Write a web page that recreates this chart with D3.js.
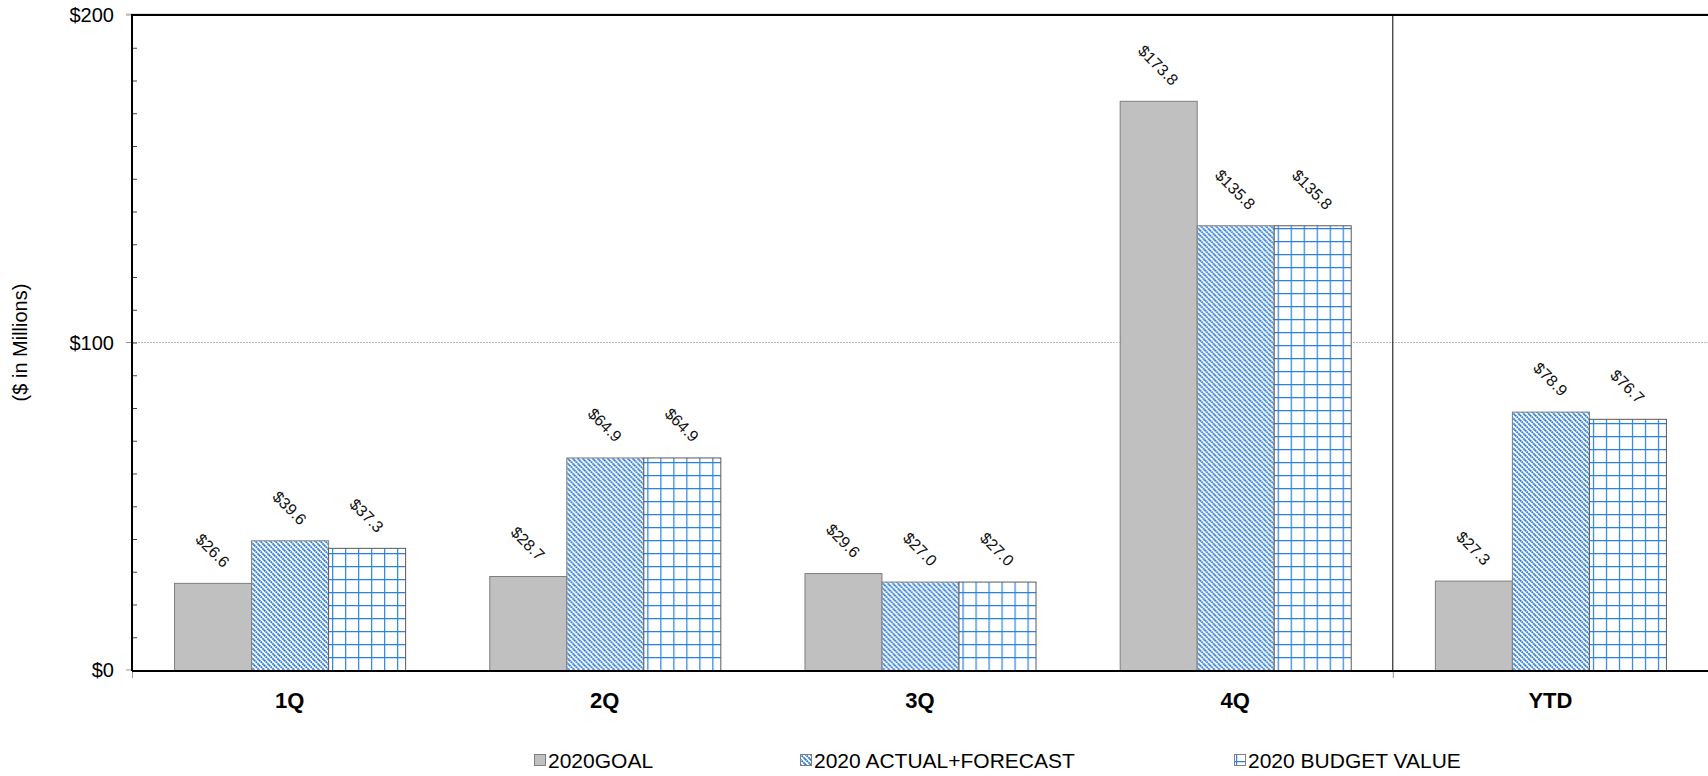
<!DOCTYPE html>
<html>
<head>
<meta charset="utf-8">
<script src="https://cdn.jsdelivr.net/npm/d3@7"></script>
<style>
  html, body { margin: 0; padding: 0; background: #fff; }
  svg { display: block; font-family: Arial, "Liberation Sans", sans-serif; }
  .bar-label { font-size: 16px; fill: #111; }
  .ytick { font-size: 20px; fill: #000; }
  .xtick { font-size: 22px; font-weight: bold; fill: #000; }
  .legend text { font-size: 21px; fill: #000; }
</style>
</head>
<body>
<svg id="chart" width="1708" height="776"></svg>
<script>
var categories = ['1Q', '2Q', '3Q', '4Q', 'YTD'];
var seriesNames = ['2020GOAL', '2020 ACTUAL+FORECAST', '2020 BUDGET VALUE'];
var goal = [26.6, 28.7, 29.6, 173.8, 27.3];
var actualForecast = [39.6, 64.9, 27.0, 135.8, 78.9];
var budget = [37.3, 64.9, 27.0, 135.8, 76.7];
var yTicks = [0, 100, 200];

var seriesValues = [goal, actualForecast, budget];
var fills = ['#c0c0c0', 'url(#hatch)', 'url(#grid)'];
var strokes = ['#7f7f7f', '#7f7f7f', '#5a5a5a'];

var svg = d3.select('#chart');
// note: "top" is window.top, so use other names
var plotLeft = 132, plotRight = 1708, plotTop = 15, plotBottom = 670;

var x0 = d3.scaleBand()
  .domain(categories)
  .range([plotLeft, plotRight])
  .paddingInner(0.267)
  .paddingOuter(0.1335);

var x1 = d3.scaleBand()
  .domain(d3.range(seriesNames.length))
  .range([0, x0.bandwidth()]);

var y = d3.scaleLinear().domain([0, 200]).range([plotBottom, plotTop]);

// patterns
var defs = svg.append('defs');
var hatch = defs.append('pattern')
  .attr('id', 'hatch')
  .attr('patternUnits', 'userSpaceOnUse')
  .attr('width', 5)
  .attr('height', 5);
hatch.append('rect').attr('width', 5).attr('height', 5).attr('fill', '#fff');
hatch.append('path')
  .attr('d', 'M0,0 L5,5 M-1,4 L1,6 M4,-1 L6,1')
  .attr('stroke', '#1f74d4')
  .attr('stroke-width', 1.8)
  .attr('stroke-dasharray', '1.8 0.6');

var grid = defs.append('pattern')
  .attr('id', 'grid')
  .attr('patternUnits', 'userSpaceOnUse')
  .attr('width', 13)
  .attr('height', 13)
  .attr('patternTransform', 'translate(2,' + (plotBottom % 13) + ')');
grid.append('rect').attr('width', 13).attr('height', 13).attr('fill', '#fff');
grid.append('path')
  .attr('d', 'M0.5,0 V13 M0,0.5 H13')
  .attr('stroke', '#2a82dc')
  .attr('stroke-width', 1.4);

// gridlines
svg.append('line')
  .attr('x1', plotLeft).attr('x2', plotRight)
  .attr('y1', y(100)).attr('y2', y(100))
  .attr('stroke', '#bdbdbd')
  .attr('stroke-dasharray', '2 1');
svg.append('line')
  .attr('x1', plotLeft - 6).attr('x2', plotRight)
  .attr('y1', y(200) - 1).attr('y2', y(200) - 1)
  .attr('stroke', '#c0c0c0');

// bars
var groups = svg.append('g').selectAll('g')
  .data(categories)
  .enter().append('g')
    .attr('transform', function(d) { return 'translate(' + x0(d) + ',0)'; });

var cells = groups.selectAll('rect')
  .data(function(d, i) {
    return seriesValues.map(function(vals, s) { return {s: s, v: vals[i]}; });
  })
  .enter();

cells.append('rect')
  .attr('x', function(d) { return x1(d.s) + 0.5; })
  .attr('y', function(d) { return y(d.v) + 0.5; })
  .attr('width', x1.bandwidth())
  .attr('height', function(d) { return plotBottom - y(d.v); })
  .attr('fill', function(d) { return fills[d.s]; })
  .attr('stroke', function(d) { return strokes[d.s]; })
  .attr('stroke-width', 1);

// rotated value labels
cells.append('text')
  .attr('class', 'bar-label')
  .attr('text-anchor', 'middle')
  .attr('dominant-baseline', 'central')
  .text(function(d) { return '$' + d.v.toFixed(1); })
  .each(function(d) {
    var L = this.getComputedTextLength();
    var h = 12;
    var cx = x1(d.s) + x1.bandwidth() / 2;
    var cy = y(d.v) - 14 - (L + h) / (2 * Math.SQRT2);
    d3.select(this).attr('transform', 'translate(' + cx + ',' + cy + ') rotate(45)');
  });

// frame lines
svg.append('line')
  .attr('x1', plotLeft).attr('x2', plotRight)
  .attr('y1', plotTop).attr('y2', plotTop)
  .attr('stroke', '#000').attr('stroke-width', 2);
svg.append('line')
  .attr('x1', x0.step() * 4 + plotLeft).attr('x2', x0.step() * 4 + plotLeft)
  .attr('y1', plotTop).attr('y2', plotBottom)
  .attr('stroke', '#000').attr('stroke-width', 1);

// y axis
var yAxis = svg.append('g');
yAxis.selectAll('line.minor')
  .data(d3.range(10, 200, 10))
  .enter().append('line')
    .attr('x1', plotLeft).attr('x2', plotLeft + 5)
    .attr('y1', function(d) { return y(d) + 0.5; })
    .attr('y2', function(d) { return y(d) + 0.5; })
    .attr('stroke', '#444');
yAxis.selectAll('line.major')
  .data(yTicks)
  .enter().append('line')
    .attr('x1', plotLeft - 6).attr('x2', plotLeft)
    .attr('y1', function(d) { return y(d); })
    .attr('y2', function(d) { return y(d); })
    .attr('stroke', '#999');
yAxis.selectAll('text')
  .data(yTicks)
  .enter().append('text')
    .attr('class', 'ytick')
    .attr('x', 114)
    .attr('y', function(d) { return y(d); })
    .attr('dy', '0.35em')
    .attr('text-anchor', 'end')
    .text(function(d) { return '$' + d; });
svg.append('line')
  .attr('x1', plotLeft).attr('x2', plotLeft)
  .attr('y1', plotTop - 1).attr('y2', plotBottom + 1)
  .attr('stroke', '#000').attr('stroke-width', 2);

svg.append('text')
  .attr('transform', 'translate(27,' + ((plotTop + plotBottom) / 2) + ') rotate(-90)')
  .attr('text-anchor', 'middle')
  .style('font-size', '20px')
  .text('($ in Millions)');

// x axis
svg.append('line')
  .attr('x1', plotLeft).attr('x2', plotRight)
  .attr('y1', plotBottom + 1).attr('y2', plotBottom + 1)
  .attr('stroke', '#000').attr('stroke-width', 2);
[plotLeft, plotLeft + x0.step() * 4].forEach(function(tx) {
  svg.append('line')
    .attr('x1', tx + 0.5).attr('x2', tx + 0.5)
    .attr('y1', plotBottom + 2).attr('y2', plotBottom + 8)
    .attr('stroke', '#999');
});
svg.append('g').selectAll('text')
  .data(categories)
  .enter().append('text')
    .attr('class', 'xtick')
    .attr('x', function(d) { return x0(d) + x0.bandwidth() / 2; })
    .attr('y', 708)
    .attr('text-anchor', 'middle')
    .text(function(d) { return d; });

// legend
var legendX = [534, 800, 1234];
var legend = svg.append('g').attr('class', 'legend')
  .selectAll('g')
  .data(seriesNames)
  .enter().append('g')
    .attr('transform', function(d, i) { return 'translate(' + legendX[i] + ',754)'; });
legend.append('rect')
  .attr('x', 0.5).attr('y', 0.5)
  .attr('width', 11).attr('height', 11)
  .attr('fill', function(d, i) { return fills[i]; })
  .attr('stroke', '#7f7f7f');
legend.append('text')
  .attr('x', 14)
  .attr('y', 14)
  .text(function(d) { return d; });
</script>
</body>
</html>
